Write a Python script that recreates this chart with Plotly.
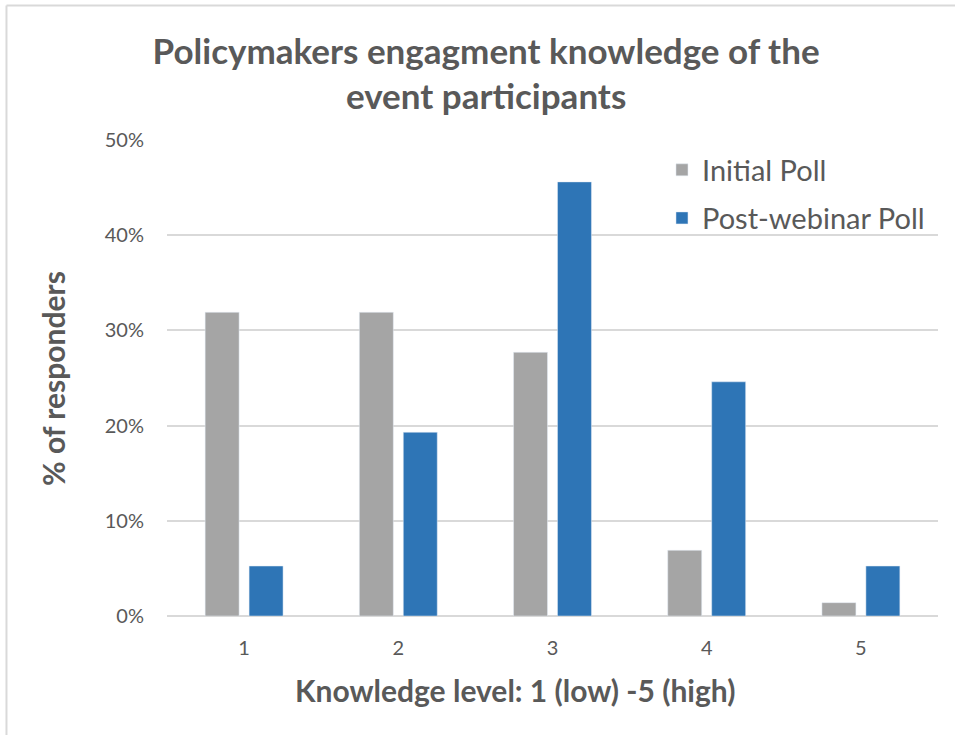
import plotly.graph_objects as go

categories = ["1", "2", "3", "4", "5"]
initial_poll = [31.9, 31.9, 27.7, 6.9, 1.4]
post_webinar_poll = [5.25, 19.3, 45.6, 24.6, 5.25]
y_ticks = [0, 10, 20, 30, 40, 50]
y_tick_labels = ["0%", "10%", "20%", "30%", "40%", "50%"]

FONT = "Lato, 'Open Sans', sans-serif"
TXT = "#595959"

fig = go.Figure()
fig.add_trace(go.Bar(x=categories, y=initial_poll, name="Initial Poll",
                     marker=dict(color="#a5a5a5"), legend="legend"))
fig.add_trace(go.Bar(x=categories, y=post_webinar_poll, name="Post-webinar Poll",
                     marker=dict(color="#2e75b6"), legend="legend2"))

fig.update_layout(
    width=955, height=735,
    margin=dict(l=167, r=17, t=140, b=119),
    paper_bgcolor="white", plot_bgcolor="white",
    barmode="group", bargap=0.43, bargroupgap=0.227,
    font=dict(family=FONT, color=TXT),
    title=dict(text="<b>Policymakers engagment knowledge of the<br>event participants</b>",
               x=0.509, xanchor="center", xref="container",
               y=0.9136, yanchor="middle", yref="container",
               font=dict(size=35, color=TXT, family=FONT)),
    xaxis=dict(type="category", showgrid=False, showline=False, zeroline=False,
               ticks="", tickfont=dict(size=20, color=TXT), ticklabelstandoff=18),
    yaxis=dict(range=[0, 50], tickvals=y_ticks, ticktext=y_tick_labels,
               showgrid=True, gridcolor="#d9d9d9", gridwidth=1.5,
               zeroline=True, zerolinecolor="#d9d9d9", zerolinewidth=1.5,
               showline=False, ticks="", tickfont=dict(size=20, color=TXT),
               ticklabelstandoff=22),
    legend=dict(x=0.642, xanchor="left", y=0.937, yanchor="middle",
                font=dict(size=29, color=TXT), bgcolor="rgba(0,0,0,0)"),
    legend2=dict(x=0.642, xanchor="left", y=0.836, yanchor="middle",
                 font=dict(size=29, color=TXT), bgcolor="rgba(0,0,0,0)"),
    showlegend=True,
)

fig.add_annotation(text="<b>Knowledge level: 1 (low) -5 (high)</b>",
                   xref="paper", yref="paper", x=0.451, y=-0.155,
                   xanchor="center", yanchor="middle", showarrow=False,
                   font=dict(size=30, color=TXT, family=FONT))
fig.add_annotation(text="<b>% of responders</b>", textangle=-90,
                   xref="paper", yref="paper", x=-0.148, y=0.5,
                   xanchor="center", yanchor="middle", showarrow=False,
                   font=dict(size=30, color=TXT, family=FONT))

# outer chart border (top and left edges visible)
fig.add_shape(type="line", xref="paper", yref="paper", x0=-0.2082, x1=1.05,
              y0=1.2826, y1=1.2826, line=dict(color="#d9d9d9", width=2))
fig.add_shape(type="line", xref="paper", yref="paper", x0=-0.2082, x1=-0.2082,
              y0=-0.27, y1=1.2826, line=dict(color="#d9d9d9", width=2))

fig.write_html("out.html", config={"displayModeBar": False},
               post_script="document.body.style.margin='0';")
